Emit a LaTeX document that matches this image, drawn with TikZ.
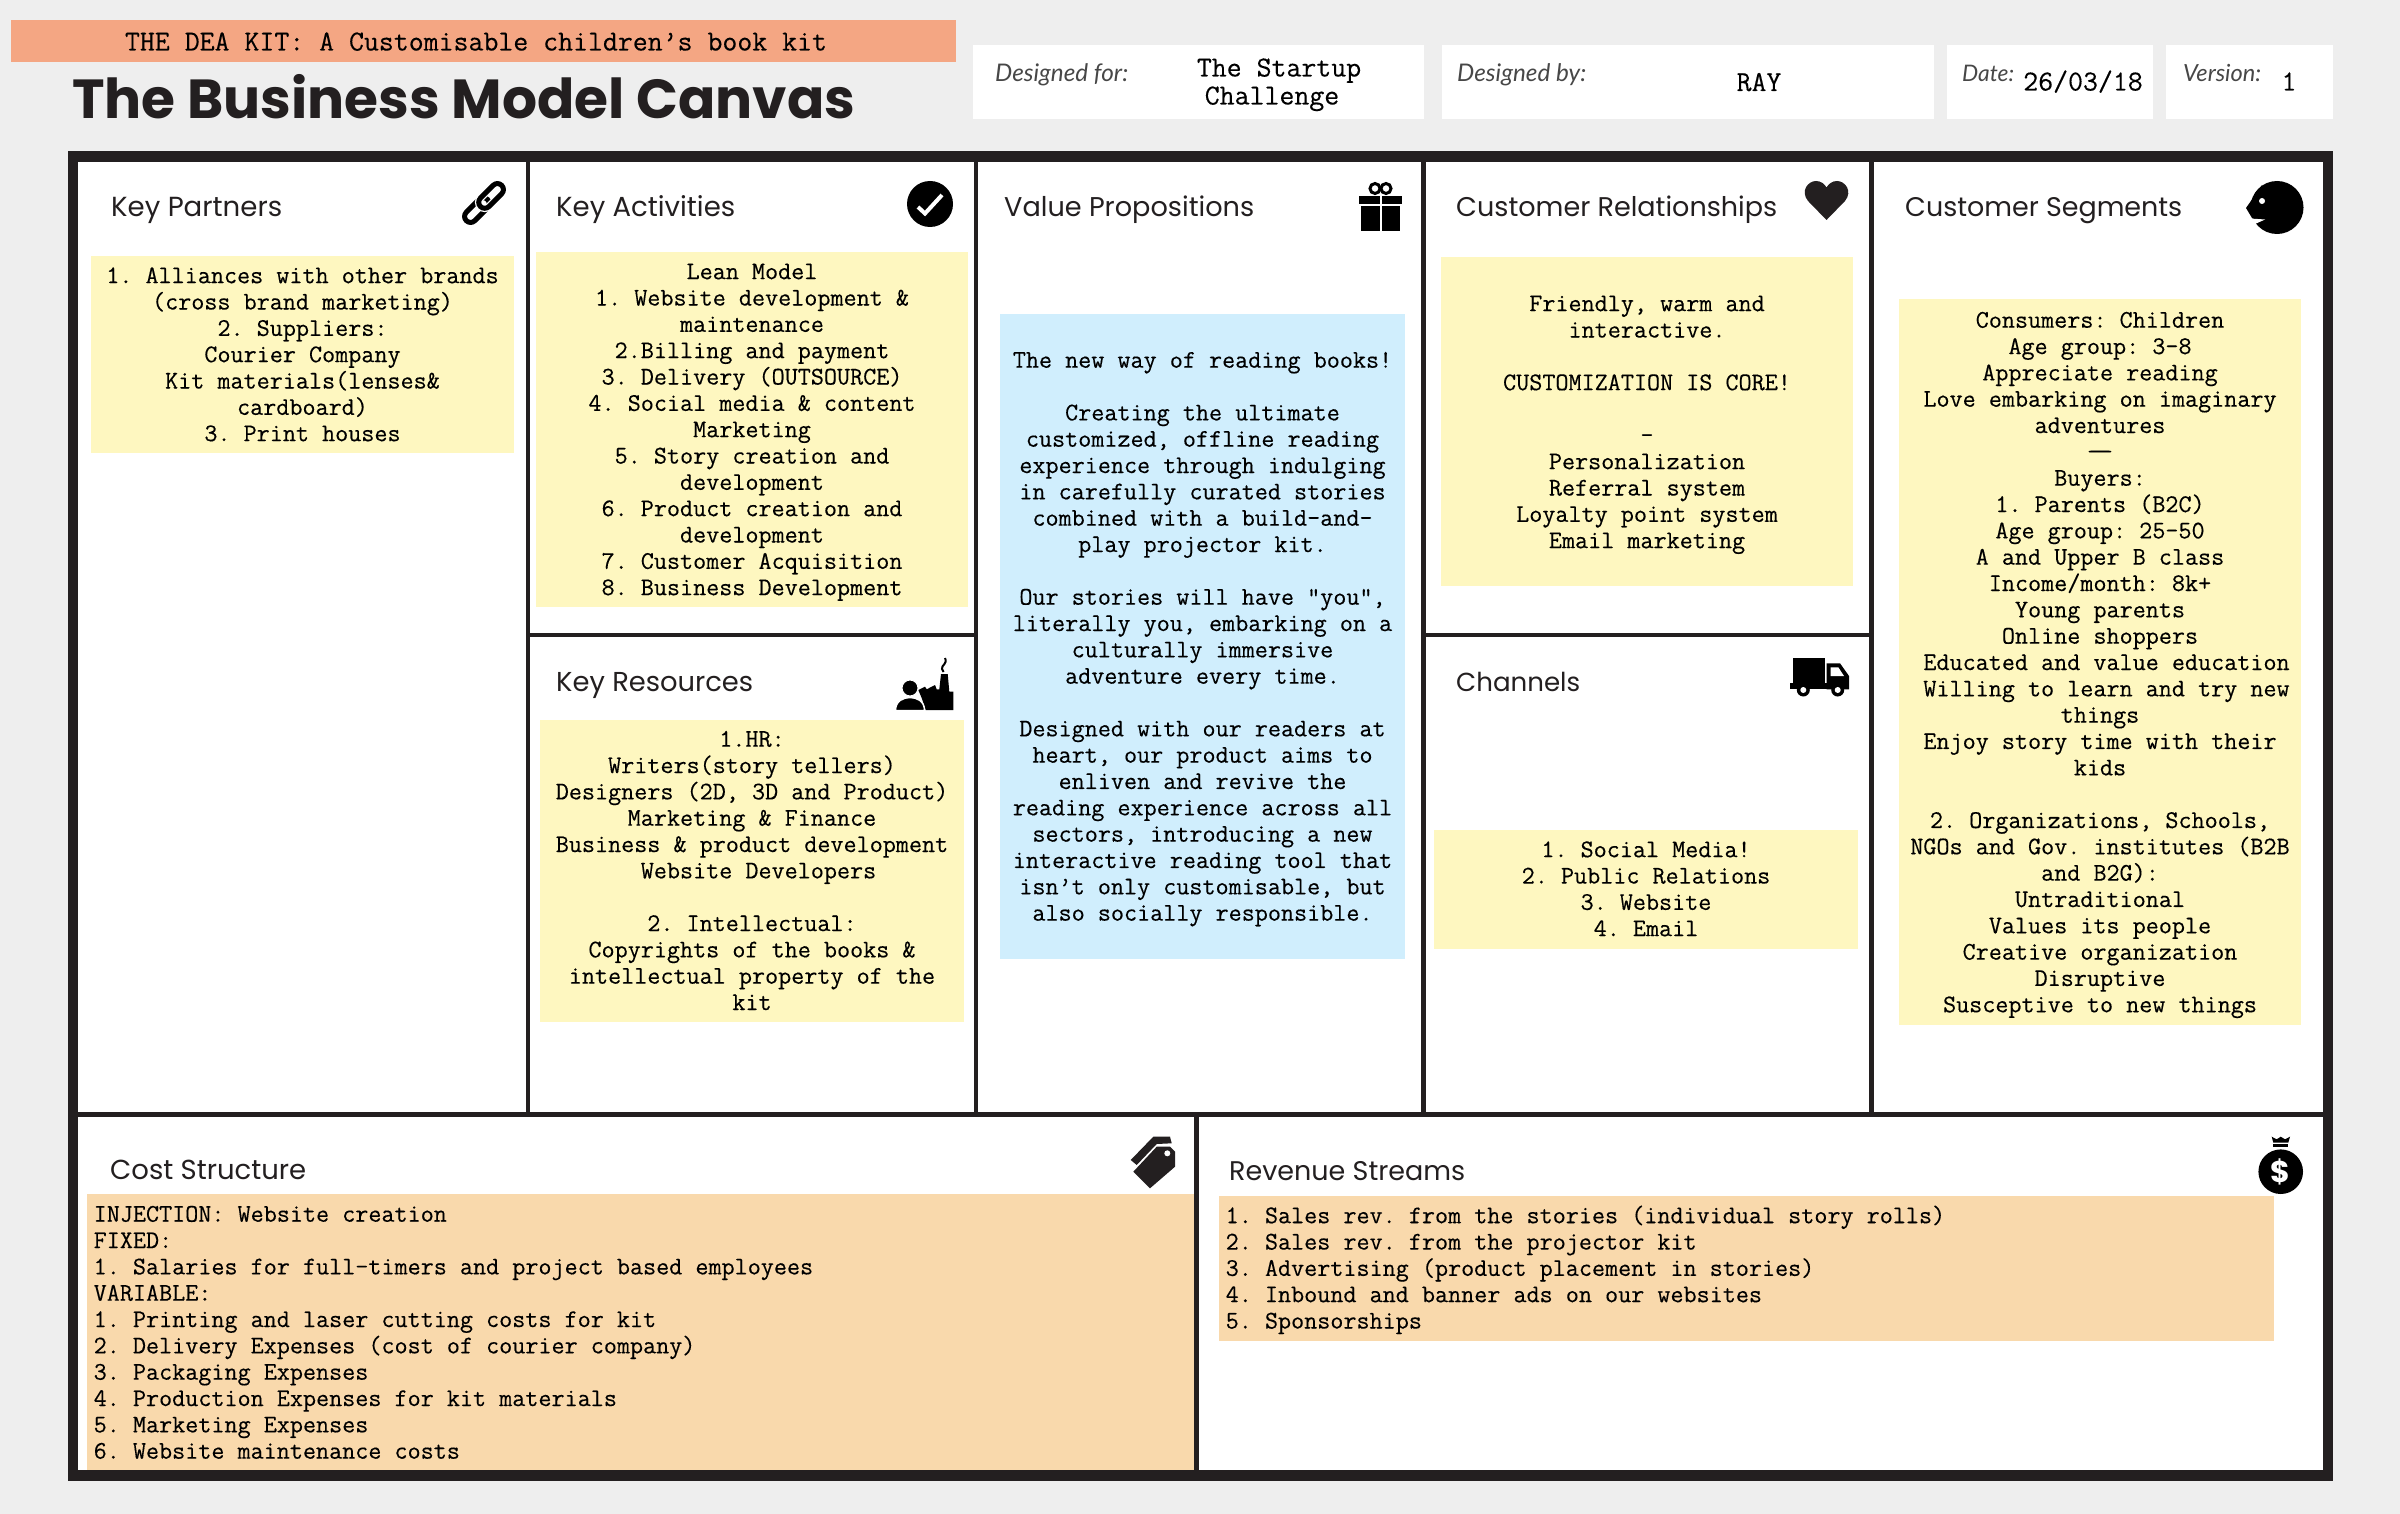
\documentclass[tikz,border=0pt]{standalone}
\usepackage{fontspec}
\usepackage{graphicx}
\setmainfont{Poppins}
\newfontfamily\bodyf{Latin Modern Mono}[FakeBold=0.3]
\newfontfamily\labelf{Lato}
\definecolor{bgc}{HTML}{EEEEEE}
\definecolor{ink}{HTML}{231F20}
\definecolor{bannerc}{HTML}{F4A683}
\definecolor{yel}{HTML}{FEF7C0}
\definecolor{blu}{HTML}{D0EEFD}
\definecolor{ora}{HTML}{F9D9AC}
\newcommand\bx[6]{\node[boxn,fill=#6,minimum width={(#4-#2)*1pt},minimum height={(#5-#3)*1pt}] (#1) at ({(#2+#4)/2},{(#3+#5)/2}) {};}
\newcommand\st{\rule{0pt}{20pt}}
\newcommand\hd[5]{\node[headn] (#1) at (#2,#3) {\resizebox{#4pt}{!}{#5}};}
\newcommand\lb[5]{\node[labeln] (#1) at (#2,#3) {\resizebox{#4pt}{!}{\labelf\itshape #5}};}
\begin{document}
\begin{tikzpicture}[x=1pt,y=-1pt,
 boxn/.style={inner sep=0pt,outer sep=0pt,draw=none},
 headn/.style={anchor=base west,inner sep=0pt,text=ink},
 labeln/.style={anchor=base west,inner sep=0pt,text=black!72},
 ctext/.style={anchor=north,inner sep=0pt,align=center,text=black,font=\bodyf\fontsize{25.4}{26.33}\selectfont\frenchspacing},
 ltext/.style={anchor=north west,inner sep=0pt,align=left,text=black,font=\bodyf\fontsize{25.4}{26.33}\selectfont\frenchspacing},
 htext/.style={anchor=base,inner sep=0pt,align=center,text=black,font=\bodyf\fontsize{29}{29}\selectfont\frenchspacing},
 ic/.style={fill=black,draw=none},
 icd/.style={fill=ink,draw=none}]
\useasboundingbox (0,0) rectangle (2400,1514);
\bx{bg}{0}{0}{2400}{1514}{bgc}
% header
\bx{banner}{11}{20}{956}{62}{bannerc}
\node[htext] (bannert) at (476,50.5) {THE DEA KIT: A Customisable children’s book kit};
\node[anchor=base west,inner sep=0pt,text=ink] (title) at (72,119) {\resizebox{783pt}{!}{\bfseries The Business Model Canvas}};
\bx{h1}{973}{45}{1424}{119}{white}
\bx{h2}{1442}{45}{1934}{119}{white}
\bx{h3}{1947}{45}{2153}{119}{white}
\bx{h4}{2166}{45}{2333}{119}{white}
\lb{l1}{995}{82}{133}{Designed for:}
\lb{l2}{1457}{82}{129}{Designed by:}
\lb{l3}{1962}{81.5}{52}{Date:}
\lb{l4}{2183}{81.5}{78}{Version:}
\node[htext] (v1) at (1279,76.5) {The Startup};
\node[htext] (v1b) at (1272,104.5) {Challenge};
\node[htext] (v2) at (1759,91) {RAY};
\node[htext] (v3) at (2083,90.5) {26/03/18};
\node[htext] (v4) at (2289,90.5) {1};
% frame
\bx{frame}{68}{151}{2333}{1481}{ink}
\bx{c1}{78}{162}{526}{1112}{white}
\bx{c2a}{530}{162}{974}{633}{white}
\bx{c2b}{530}{637}{974}{1112}{white}
\bx{c3}{978}{162}{1421}{1112}{white}
\bx{c4a}{1426}{162}{1869}{633}{white}
\bx{c4b}{1426}{637}{1869}{1112}{white}
\bx{c5}{1874}{162}{2323}{1112}{white}
\bx{c6}{78}{1117}{1194}{1470}{white}
\bx{c7}{1199}{1117}{2323}{1470}{white}
% headings
\hd{hkp}{111}{216.5}{171}{Key Partners}
\hd{hka}{556}{216.5}{179}{Key Activities}
\hd{hvp}{1004}{216.5}{250}{Value Propositions}
\hd{hcr}{1456}{216.5}{321}{Customer Relationships}
\hd{hcs}{1905}{216.5}{277}{Customer Segments}
\hd{hkr}{556}{691.5}{197}{Key Resources}
\hd{hch}{1456}{691}{124}{Channels}
\hd{hcost}{110}{1179}{196}{Cost Structure}
\hd{hrev}{1229}{1180}{236}{Revenue Streams}
% sticky boxes
\bx{kp}{91}{256}{514}{453}{yel}
\bx{ka}{536}{252}{968}{607}{yel}
\bx{kr}{540}{720}{964}{1022}{yel}
\bx{vp}{1000}{314}{1405}{959}{blu}
\bx{cr}{1441}{257}{1853}{586}{yel}
\bx{ch}{1434}{830}{1858}{949}{yel}
\bx{cs}{1899}{299}{2301}{1025}{yel}
\bx{cost}{87}{1194}{1194}{1470}{ora}
\bx{rev}{1219}{1196}{2274}{1341}{ora}
% sticky texts
\node[ctext] (kpt) at (302.5,263) {\st 1. Alliances with other brands\\(cross brand marketing)\\2. Suppliers:\\Courier Company\\Kit materials(lenses\&\\cardboard)\\3. Print houses};
\node[ctext] (kat) at (752,259) {\st Lean Model\\1. Website development \&\\maintenance\\2.Billing and payment\\3. Delivery (OUTSOURCE)\\4. Social media \& content\\Marketing\\5. Story creation and\\development\\6. Product creation and\\development\\7. Customer Acquisition\\8. Business Development};
\node[ctext] (krt) at (752,726.5) {\st 1.HR:\\Writers(story tellers)\\Designers (2D, 3D and Product)\\Marketing \& Finance\\Business \& product development\\\hspace*{13pt}Website Developers\\\mbox{}\\2. Intellectual:\\Copyrights of the books \&\\intellectual property of the\\kit};
\node[ctext] (vpt) at (1202.5,347.5) {\st The new way of reading books!\\\mbox{}\\Creating the ultimate\\customized, offline reading\\experience through indulging\\in carefully curated stories\\combined with a build-and-\\play projector kit.\\\mbox{}\\Our stories will have “you”,\\literally you, embarking on a\\culturally immersive\\adventure every time.\\\mbox{}\\Designed with our readers at\\heart, our product aims to\\enliven and revive the\\reading experience across all\\sectors, introducing a new\\interactive reading tool that\\isn’t only customisable, but\\also socially responsible.};
\node[ctext] (crt) at (1647,291) {\st Friendly, warm and\\interactive.\\\mbox{}\\CUSTOMIZATION IS CORE!\\\mbox{}\\–\\Personalization\\Referral system\\Loyalty point system\\Email marketing};
\node[ctext] (cht) at (1646,837) {\st 1. Social Media!\\2. Public Relations\\3. Website\\4. Email};
\node[ctext] (cst) at (2100,307.5) {\st Consumers: Children\\Age group: 3-8\\Appreciate reading\\Love embarking on imaginary\\adventures\\\scalebox{2.2}[1]{—}\\Buyers:\\1. Parents (B2C)\\Age group: 25–50\\A and Upper B class\\Income/month: 8k+\\Young parents\\Online shoppers\\\hspace*{13pt}Educated and value education\\\hspace*{13pt}Willing to learn and try new\\things\\Enjoy story time with their\\kids\\\mbox{}\\2. Organizations, Schools,\\NGOs and Gov. institutes (B2B\\and B2G):\\Untraditional\\Values its people\\Creative organization\\Disruptive\\Susceptive to new things};
\node[ltext] (costt) at (93.5,1201.5) {\st INJECTION: Website creation\\FIXED:\\1. Salaries for full-timers and project based employees\\VARIABLE:\\1. Printing and laser cutting costs for kit\\2. Delivery Expenses (cost of courier company)\\3. Packaging Expenses\\4. Production Expenses for kit materials\\5. Marketing Expenses\\6. Website maintenance costs};
\node[ltext] (revt) at (1225.5,1203) {\st 1. Sales rev. from the stories (individual story rolls)\\2. Sales rev. from the projector kit\\3. Advertising (product placement in stories)\\4. Inbound and banner ads on our websites\\5. Sponsorships};
% link icon
\begin{scope}[shift={(484,203)},rotate=45]
 \draw[black,line width=5pt,rounded corners=6pt] (-25,-6) rectangle (5,6);
 \draw[white,line width=7.5pt,rounded corners=6pt] (-5,-6) rectangle (25,6);
 \draw[black,line width=5pt,rounded corners=6pt] (-5,-6) rectangle (25,6);
\end{scope}
% check icon
\fill[ic] (930,204) circle[radius=23pt];
\draw[white,line width=4pt] (918,207) -- (925,213.5) -- (942,195);
% gift icon
\draw[black,line width=3pt] (1375,188.5) ellipse[x radius=5pt,y radius=5pt];
\draw[black,line width=3pt] (1386,188.5) ellipse[x radius=5pt,y radius=5pt];
\fill[ic] (1359,196) rectangle (1379.5,204);
\fill[ic] (1381.5,196) rectangle (1402,204);
\fill[ic] (1361,206) rectangle (1379.5,231);
\fill[ic] (1381.5,206) rectangle (1400,231);
% heart icon
\fill[icd] (1826.5,220) -- (1808,201) .. controls (1800,191) and (1808,181) .. (1816,181) .. controls (1821,181) and (1824.5,184) .. (1826.5,187.5) .. controls (1828.5,184) and (1832,181) .. (1837,181) .. controls (1845,181) and (1853,191) .. (1845,201) -- cycle;
% face icon
\fill[ic] (2277,207.5) circle[radius=26.5pt];
\fill[ic] (2262,185) -- (2246,208) -- (2252,218) -- (2262,225) -- cycle;
\fill[white] (2250,218.5) -- (2265,219.5) -- (2255,224) -- (2252,230) -- (2246,226) -- cycle;
\fill[white] (2262,201) circle[radius=3pt];
% factory icon
\fill[ic] (925.7,710) -- (921.7,698) -- (918.3,690) -- (925,686.7) -- (926.7,689.3) -- (935,685) -- (936.7,689.3) -- (939.3,689.3) -- (941,674) -- (947.7,674) -- (949.3,691.7) -- (953.3,691.7) -- (953.3,710) -- cycle;
\draw[black,line width=2pt] (945,658) .. controls (948,664) and (941,665) .. (942,669) .. controls (942.5,670) and (943,671) .. (943.5,672);
\fill[ic,draw=white,line width=1.5pt] (895.5,710.5) .. controls (895.5,701) and (903,697.5) .. (910,697.5) .. controls (917,697.5) and (924.5,701) .. (924.5,710.5) -- cycle;
\fill[ic,draw=white,line width=1pt] (910,688) circle[radius=8pt];
% truck icon
\fill[ic] (1793.3,658.3) rectangle (1825,683.3);
\fill[ic] (1790,683.3) rectangle (1849,689.3);
\fill[ic] (1826.7,663.3) -- (1840,663.3) -- (1849,676) -- (1849,689.3) -- (1826.7,689.3) -- cycle;
\fill[white] (1830.7,667.3) -- (1838.3,667.3) -- (1844,676) -- (1830.7,676) -- cycle;
\fill[ic] (1803.3,690) circle[radius=6.5pt];
\fill[ic] (1837.7,690) circle[radius=6.5pt];
\fill[white] (1803.3,690) circle[radius=3pt];
\fill[white] (1837.7,690) circle[radius=3pt];
% tag icon
\fill[icd] (1153.3,1136.7) -- (1170,1136.7) -- (1171.7,1143.3) -- (1156.7,1144) -- (1136.7,1165) -- (1130.7,1160) -- cycle;
\fill[icd] (1156.7,1146.7) -- (1170,1146.7) -- (1175,1151.7) -- (1175,1166.7) -- (1150,1188.3) -- (1133.3,1171.7) -- cycle;
\fill[white] (1167.3,1153.3) circle[radius=3pt];
% money icon
\fill[ic] (2280.7,1171.7) circle[radius=22.3pt];
\fill[ic] (2271.7,1136.7) -- (2276.7,1139.3) -- (2280.7,1136.7) -- (2285,1139.3) -- (2290,1136.7) -- (2288.3,1142.7) -- (2273.3,1142.7) -- cycle;
\fill[ic] (2273.3,1144) rectangle (2288.3,1146.7);
\node[inner sep=0pt,text=white,font=\bfseries\fontsize{30}{30}\selectfont] (dollar) at (2280.7,1171.7) {\$};
\end{tikzpicture}
\end{document}
